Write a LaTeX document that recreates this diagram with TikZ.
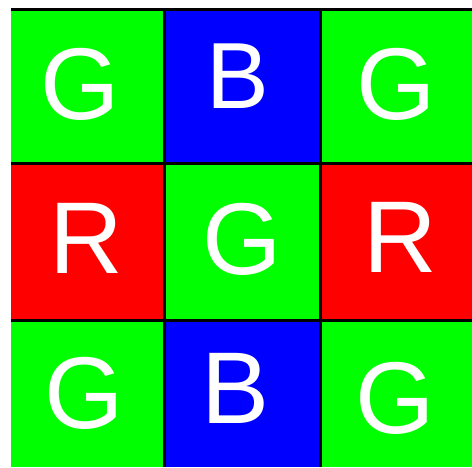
\documentclass[tikz,border=0pt]{standalone}
\usepackage{fontspec}
\setmainfont{Liberation Sans}
\definecolor{bayergreen}{rgb}{0,1,0}
\definecolor{bayerblue}{rgb}{0,0,1}
\definecolor{bayerred}{rgb}{1,0,0}
\usetikzlibrary{positioning}

\begin{document}
\begin{tikzpicture}[x=1pt,y=-1pt,
    letter/.style={text=white,inner sep=0pt,font=\fontsize{102}{102}\selectfont},
    gridline/.style={draw=black,line width=3pt}]
        \useasboundingbox (0,0) rectangle (472,467);
        % cells
        \fill[bayergreen] (11,9) rectangle (164,163);
        \fill[bayerblue] (164,9) rectangle (320.5,163);
        \fill[bayergreen] (320.5,9) rectangle (472,163);
        \fill[bayerred] (11,163) rectangle (164,320);
        \fill[bayergreen] (164,163) rectangle (320.5,320);
        \fill[bayerred] (320.5,163) rectangle (472,320);
        \fill[bayergreen] (11,320) rectangle (164,467);
        \fill[bayerblue] (164,320) rectangle (320.5,467);
        \fill[bayergreen] (320.5,320) rectangle (472,467);
        % grid
        \draw[gridline] (11,9) -- (472,9);
        \draw[gridline] (11,163) -- (472,163);
        \draw[gridline] (11,320) -- (472,320);
        \draw[gridline] (164,9) -- (164,467);
        \draw[gridline] (320.5,9) -- (320.5,467);
        % letters
        \node[letter] (g1) at (80,84.5) {G};
        \node[letter,font=\fontsize{94}{94}\selectfont] (b1) at (237.5,76.5) {B};
        \node[letter] (g2) at (396,84.5) {G};
        \node[letter] (r1) at (86,238.5) {R};
        \node[letter] (g3) at (242,239) {G};
        \node[letter] (r2) at (400,237) {R};
        \node[letter] (g4) at (84,393.5) {G};
        \node[letter] (b2) at (236,388.5) {B};
        \node[letter] (g5) at (395,398.5) {G};
      \end{tikzpicture}
\end{document}
